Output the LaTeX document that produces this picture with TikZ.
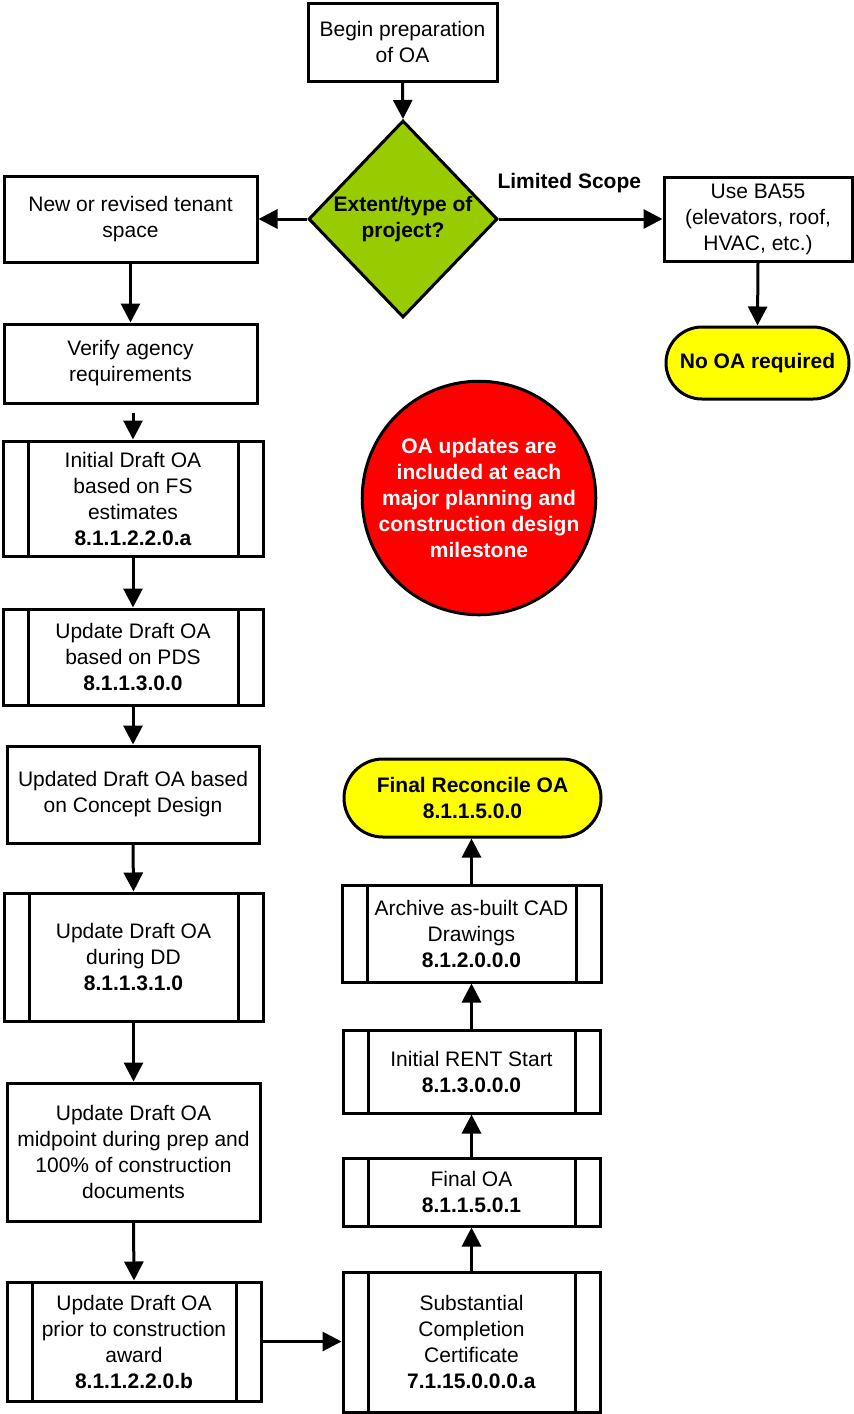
\documentclass[tikz,border=0pt]{standalone}
\usepackage{fontspec}
\setmainfont{Liberation Sans}
\usetikzlibrary{arrows.meta,shapes.geometric,shapes.misc}
\definecolor{dgreen}{HTML}{99CC00}
\definecolor{tyellow}{HTML}{FFFF00}
\definecolor{cred}{HTML}{FF0000}
\tikzset{
  base/.style={draw=black, line width=3pt, inner sep=3pt, align=center,
    font=\fontsize{21}{26}\selectfont},
  box/.style={base, rectangle},
  subproc/.style={box, path picture={
      \draw[line width=3pt]
        ([xshift=25pt]path picture bounding box.north west) -- ([xshift=25pt]path picture bounding box.south west)
        ([xshift=-25pt]path picture bounding box.north east) -- ([xshift=-25pt]path picture bounding box.south east);}},
  term/.style={base, rounded rectangle, fill=tyellow, font=\fontsize{21}{26}\selectfont\bfseries},
  arr/.style={line width=3pt, -{Triangle[length=19pt,width=19pt]}},
}
\begin{document}
\begin{tikzpicture}[x=1pt,y=-1pt]
\useasboundingbox (0,0) rectangle (854,1414);
% top
\node[box, minimum width=189pt, minimum height=78pt] (begin) at (402.5,42) {Begin preparation\\of OA};
\node[base, diamond, fill=dgreen, minimum width=189pt, minimum height=197pt, inner sep=0pt,
  label={[font=\fontsize{21}{26}\selectfont\bfseries, align=center]center:Extent/type of\\project?}] (dia) at (403,219) {};
\node[box, minimum width=253pt, minimum height=86pt] (newrev) at (130.5,219) {New or revised tenant\\space};
\node[box, minimum width=188pt, minimum height=84pt] (ba55) at (758,219) {Use BA55\\(elevators, roof,\\HVAC, etc.)};
\node[term, minimum width=189pt, minimum height=72pt] (nooa) at (757.5,363) {No OA required};
% left column
\node[box, minimum width=253pt, minimum height=79pt] (verify) at (130.5,363.5) {Verify agency\\requirements};
\node[subproc, minimum width=260pt, minimum height=115pt] (init) at (133,498.5) {Initial Draft OA\\based on FS\\estimates\\\textbf{8.1.1.2.2.0.a}};
\node[subproc, minimum width=260pt, minimum height=96pt] (pds) at (133,657) {Update Draft OA\\based on PDS\\\textbf{8.1.1.3.0.0}};
\node[box, minimum width=252pt, minimum height=97pt] (concept) at (133,794.5) {Updated Draft OA based\\on Concept Design};
\node[subproc, minimum width=259pt, minimum height=128pt] (dd) at (133.5,957) {Update Draft OA\\during DD\\\textbf{8.1.1.3.1.0}};
\node[box, minimum width=253pt, minimum height=138pt] (mid) at (133.5,1152) {Update Draft OA\\midpoint during prep and\\100\% of construction\\documents};
\node[subproc, minimum width=254pt, minimum height=119pt] (prior) at (134,1341.5) {Update Draft OA\\prior to construction\\award\\\textbf{8.1.1.2.2.0.b}};
% right column
\node[subproc, minimum width=257pt, minimum height=140pt] (subst) at (471.5,1342) {Substantial\\Completion\\Certificate\\\textbf{7.1.15.0.0.0.a}};
\node[subproc, minimum width=257pt, minimum height=68pt] (finaloa) at (471.5,1192) {Final OA\\\textbf{8.1.1.5.0.1}};
\node[subproc, minimum width=257pt, minimum height=83pt] (rent) at (471.5,1071.5) {Initial RENT Start\\\textbf{8.1.3.0.0.0}};
\node[subproc, minimum width=259pt, minimum height=97pt] (archive) at (471.5,933.5) {Archive as-built CAD\\Drawings\\\textbf{8.1.2.0.0.0}};
\node[term, minimum width=263pt, minimum height=78pt] (recon) at (472.5,798) {Final Reconcile OA\\8.1.1.5.0.0};
% circle
\node[base, circle, fill=cred, text=white, minimum size=220pt, inner sep=0pt,
  font=\fontsize{21}{26}\selectfont\bfseries] (note) at (479,498) {OA updates are\\included at each\\major planning and\\construction design\\milestone};
% connectors
\draw[arr] (begin.south) -- (dia.north);
\draw[arr] (dia.west) -- (newrev.east);
\draw[arr] (dia.east) -- node[pos=0.43, yshift=36pt, font=\fontsize{21}{26}\selectfont\bfseries] (ls) {Limited Scope} (ba55.west);
\draw[arr] (ba55.south) -- (nooa.north);
\draw[arr] (newrev.south) -- (verify.north);
\draw[arr, shorten <=8pt] (verify.south -| init.north) -- (init.north);
\draw[arr] (init.south) -- (pds.north);
\draw[arr] (pds.south) -- (concept.north);
\draw[arr] (concept.south) -- (dd.north);
\draw[arr] (dd.south) -- (mid.north);
\draw[arr] (mid.south) -- (prior.north);
\draw[arr] (prior.east) -- (prior.east -| subst.west);
\draw[arr] (subst.north) -- (finaloa.south);
\draw[arr] (finaloa.north) -- (rent.south);
\draw[arr] (rent.north) -- (archive.south);
\draw[arr] (archive.north) -- (archive.north |- recon.south);
\end{tikzpicture}
\end{document}
